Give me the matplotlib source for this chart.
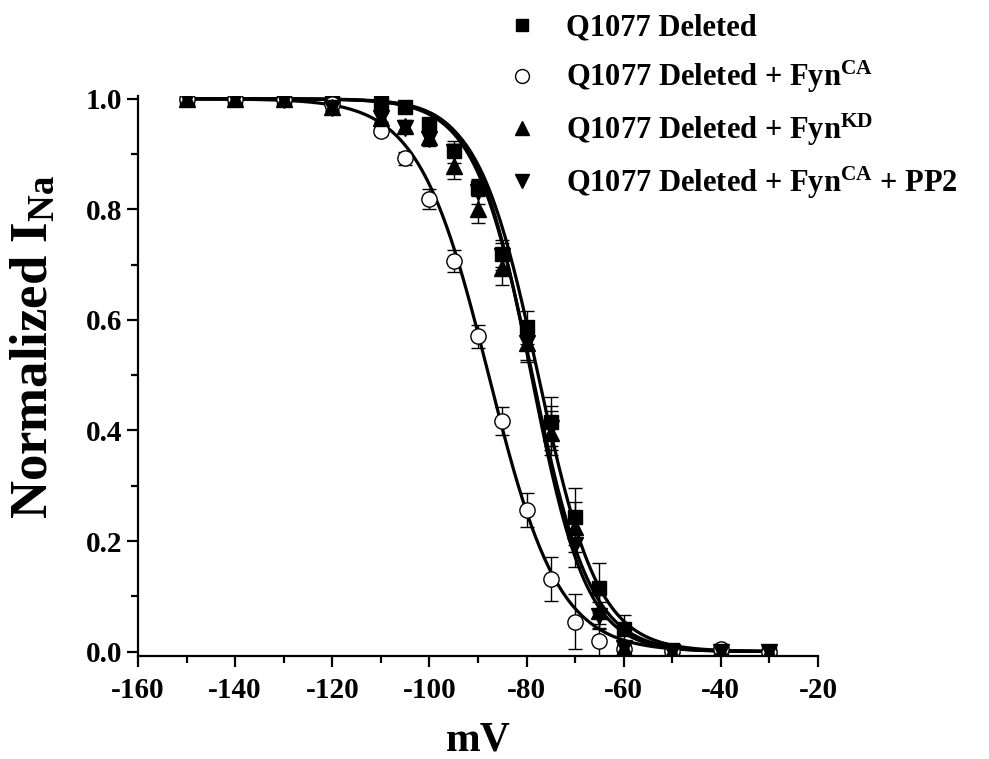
import numpy as np
import matplotlib
matplotlib.use("Agg")
import matplotlib.pyplot as plt
from matplotlib.lines import Line2D
from matplotlib.ticker import MultipleLocator

plt.rcParams['font.family'] = ['Liberation Serif', 'DejaVu Serif']
plt.rcParams['font.weight'] = 'bold'
plt.rcParams['axes.unicode_minus'] = False
plt.rcParams['mathtext.fontset'] = 'custom'
plt.rcParams['mathtext.rm'] = 'Liberation Serif:bold'
plt.rcParams['mathtext.it'] = 'Liberation Serif:bold'
plt.rcParams['mathtext.bf'] = 'Liberation Serif:bold'

# voltages (mV)
volts = [-150, -140, -130, -120, -110, -105, -100, -95, -90, -85, -80, -75, -70, -65, -60, -50, -40, -30]

# Q1077 Deleted
sq_y = [1.0, 1.0, 1.0, 0.999, 0.993, 0.986, 0.955, 0.906, 0.839, 0.720, 0.587, 0.416, 0.244, 0.115, 0.040, 0.002, 0.0, 0.0]
sq_e = [0.003, 0.003, 0.003, 0.004, 0.005, 0.006, 0.010, 0.012, 0.015, 0.025, 0.030, 0.045, 0.052, 0.045, 0.027, 0.002, 0.001, 0.001]
# + Fyn CA
ci_y = [1.0, 1.0, 1.0, 0.990, 0.942, 0.892, 0.819, 0.706, 0.570, 0.417, 0.256, 0.131, 0.054, 0.019, 0.005, 0.001, 0.005, 0.0]
ci_e = [0.003, 0.003, 0.005, 0.006, 0.008, 0.012, 0.018, 0.020, 0.020, 0.025, 0.030, 0.040, 0.050, 0.030, 0.004, 0.002, 0.004, 0.001]
# + Fyn KD
tu_y = [1.0, 1.0, 1.0, 0.985, 0.966, 0.951, 0.930, 0.879, 0.801, 0.693, 0.558, 0.395, 0.226, 0.073, 0.007, 0.0, 0.0, 0.0]
tu_e = [0.003, 0.003, 0.004, 0.006, 0.008, 0.010, 0.014, 0.025, 0.025, 0.030, 0.035, 0.040, 0.045, 0.030, 0.005, 0.002, 0.001, 0.001]
# + Fyn CA + PP2
td_y = [1.0, 1.0, 0.998, 0.984, 0.966, 0.948, 0.928, 0.903, 0.831, 0.715, 0.558, 0.405, 0.193, 0.065, 0.007, 0.0, 0.0, 0.0]
td_e = [0.003, 0.003, 0.004, 0.006, 0.008, 0.010, 0.014, 0.020, 0.022, 0.025, 0.030, 0.040, 0.040, 0.025, 0.005, 0.002, 0.001, 0.001]

# Boltzmann fit parameters (V1/2, k)
fit_vh = [-77.6, -87.8, -78.8, -79.0]
fit_k = [6.2, 7.2, 6.0, 5.7]

labels = ['Q1077 Deleted',
          r'Q1077 Deleted + Fyn$^{CA}$',
          r'Q1077 Deleted + Fyn$^{KD}$',
          r'Q1077 Deleted + Fyn$^{CA}$ + PP2']

fig = plt.figure(figsize=(9.89, 7.59), dpi=100)
ax = fig.add_axes([0.1395, 0.1357, 0.6876, 0.7378])

vv = np.linspace(-150, -30, 400)
for vh, k in zip(fit_vh, fit_k):
    ax.plot(vv, 1.0 / (1.0 + np.exp((vv - vh) / k)), color='black', lw=2.3, zorder=2)

series = [(sq_y, sq_e, 's', 'black', 10),
          (ci_y, ci_e, 'o', 'white', 11),
          (tu_y, tu_e, '^', 'black', 11),
          (td_y, td_e, 'v', 'black', 11)]
handles = []
for (y, e, m, fc, ms), lab in zip(series, labels):
    ax.errorbar(volts, y, yerr=e, fmt=m, mfc=fc, mec='black', mew=1.0, ms=ms,
                ecolor='black', elinewidth=1.0, capsize=5, capthick=1.0, zorder=3)
    handles.append(Line2D([], [], ls='none', marker=m, mfc=fc, mec='black', mew=1.0, ms=ms - 1))

ax.set_xlim(-160, -20)
ax.set_ylim(-0.008, 1.005)
ax.xaxis.set_major_locator(MultipleLocator(20))
ax.xaxis.set_minor_locator(MultipleLocator(10))
ax.yaxis.set_minor_locator(MultipleLocator(0.1))
ax.set_yticks([0.0, 0.2, 0.4, 0.6, 0.8, 1.0])
ax.set_yticklabels(['0.0', '0.2', '0.4', '0.6', '0.8', '1.0'])
for s in ['top', 'right']:
    ax.spines[s].set_visible(False)
for s in ['left', 'bottom']:
    ax.spines[s].set_linewidth(1.6)
ax.tick_params(which='major', direction='out', length=8, width=1.6, labelsize=21)
ax.tick_params(axis='x', which='major', pad=7)
ax.tick_params(which='minor', direction='out', length=5, width=1.6)
for t in ax.get_xticklabels() + ax.get_yticklabels():
    t.set_fontweight('bold')

ax.set_xlabel('mV', fontsize=30, fontweight='bold', labelpad=13)
ax.set_ylabel(r'Normalized I$_{Na}$', fontsize=38, fontweight='bold')
ax.yaxis.set_label_coords(-0.118, 0.552)

fig.legend(handles, labels, loc='upper left', bbox_to_anchor=(0.500, 0.998),
           frameon=False, fontsize=22, handlelength=1.0, handletextpad=0.95,
           labelspacing=0.54, borderaxespad=0)

fig.savefig('out.png', dpi=100)
